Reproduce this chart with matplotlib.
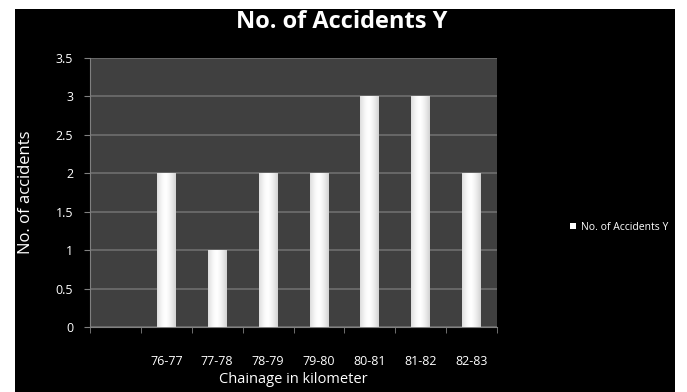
import numpy as np
import matplotlib
matplotlib.use("Agg")
import matplotlib.pyplot as plt
from matplotlib.patches import Rectangle

plt.rcParams['font.family'] = ['Open Sans', 'DejaVu Sans']

# chainage sections (first slot is empty, as in the source sheet)
sections = ['', '76-77', '77-78', '78-79', '79-80', '80-81', '81-82', '82-83']
accidents = [0, 2, 1, 2, 2, 3, 3, 2]
yticks = [0, 0.5, 1, 1.5, 2, 2.5, 3, 3.5]
ytick_labels = ['0', '0.5', '1', '1.5', '2', '2.5', '3', '3.5']

fig = plt.figure(figsize=(6.87, 3.92), dpi=100, facecolor='white')
# black chart frame inside a thin white margin
fig.patches.append(Rectangle((15 / 687, 0), 660 / 687, 383 / 392,
                             transform=fig.transFigure, facecolor='black',
                             edgecolor='none', zorder=-10))

ax = fig.add_axes([90 / 687, 1 - 327 / 392, 407 / 687, 269 / 392])
ax.set_facecolor('#404040')

x = np.arange(len(sections))
bw = 0.37
grad = np.linspace(0, 1, 64)
# light shading towards the bar edges
shade = 1 - 0.22 * np.abs(grad - 0.45) ** 1.5 * 2
img = np.tile(shade, (2, 1))
for xi, v in zip(x, accidents):
    if v <= 0:
        continue
    ax.imshow(img, cmap='gray', vmin=0, vmax=1, aspect='auto',
              extent=(xi - bw / 2, xi + bw / 2, 0, v), zorder=3,
              interpolation='bilinear')
bars = ax.bar(x, accidents, width=bw, color='white', zorder=2, label='No. of Accidents Y')

ax.set_xlim(-0.5, len(sections) - 0.5)
ax.set_ylim(0, 3.5)
ax.set_yticks(yticks)
ax.set_yticklabels(ytick_labels)
ax.set_xticks(x)
ax.set_xticklabels(sections)
ax.set_xticks(np.arange(len(sections) + 1) - 0.5, minor=True)
ax.tick_params(axis='x', which='major', length=0, pad=20, colors='white', labelsize=9)
ax.tick_params(axis='x', which='minor', length=4, color='#808080', direction='out')
ax.tick_params(axis='y', length=4, color='#808080', colors='white', labelsize=9, pad=8)
ax.grid(axis='y', color='#6e6e6e', linewidth=1.2, zorder=1)
ax.set_axisbelow(True)
for s in ['top', 'right']:
    ax.spines[s].set_visible(False)
ax.spines['left'].set_color('#808080')
ax.spines['bottom'].set_color('#808080')

ax.set_xlabel('Chainage in kilometer', color='white', fontsize=10.5, labelpad=3)
ax.set_ylabel('No. of accidents', color='white', fontsize=12, labelpad=16)

fig.text(342 / 687, 1 - 22 / 392, 'No. of Accidents Y', color='white',
         fontsize=17, fontweight='bold', ha='center', va='center')

leg = fig.legend(handles=[bars], loc='center left',
                 bbox_to_anchor=(565 / 687, 1 - 227 / 392), frameon=False,
                 fontsize=7.5, handlelength=0.6, handleheight=0.6,
                 handletextpad=0.4, borderpad=0)
for t in leg.get_texts():
    t.set_color('white')

fig.savefig('out.png', dpi=100, facecolor=fig.get_facecolor())
